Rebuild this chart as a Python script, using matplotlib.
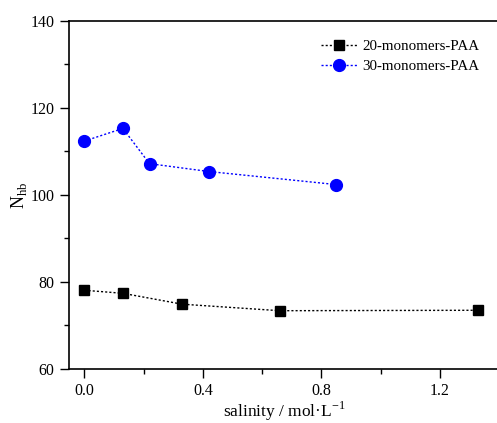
import matplotlib
matplotlib.use("Agg")
import matplotlib.pyplot as plt
from matplotlib.ticker import MultipleLocator

plt.rcParams['font.family'] = ['Liberation Serif', 'DejaVu Serif']

x20 = [0.0, 0.13, 0.33, 0.66, 1.33]
y20 = [78.1, 77.4, 74.9, 73.4, 73.5]
x30 = [0.0, 0.13, 0.22, 0.42, 0.85]
y30 = [112.4, 115.3, 107.2, 105.4, 102.4]
labels = ["20-monomers-PAA", "30-monomers-PAA"]

W, H = 497, 423
fig = plt.figure(figsize=(W/100, H/100), dpi=100)
l, r, t, b = 69, 499, 21, 369
ax = fig.add_axes([l/W, 1 - b/H, (r-l)/W, (b-t)/H])

ax.plot(x20, y20, linestyle=(0, (1.5, 1.5)), color='black', linewidth=1,
        marker='s', markersize=6.5, label=labels[0])
ax.plot(x30, y30, linestyle=(0, (1.5, 1.5)), color='blue', linewidth=1,
        marker='o', markersize=8.5, label=labels[1])

ax.set_xlim(-0.052, 1.4)
ax.set_ylim(60, 140)
ax.xaxis.set_major_locator(MultipleLocator(0.4))
ax.xaxis.set_minor_locator(MultipleLocator(0.2))
ax.yaxis.set_major_locator(MultipleLocator(20))
ax.yaxis.set_minor_locator(MultipleLocator(10))
ax.xaxis.set_major_formatter(plt.FuncFormatter(lambda v, p: f"{v:.1f}"))
ax.yaxis.set_major_formatter(plt.FuncFormatter(lambda v, p: f"{v:.0f}"))
ax.tick_params(which='both', direction='out', top=False, right=False, labelsize=11.5, width=1)
ax.tick_params(which='major', length=6.5)
ax.tick_params(which='minor', length=3.5)
ax.tick_params(axis='y', pad=4)
for s in ax.spines.values():
    s.set_linewidth(1.2)
ax.spines['right'].set_visible(False)

ax.set_xlabel("salinity / mol·L$^{\\mathregular{-1}}$", fontsize=12.5, labelpad=0.5)
ax.set_ylabel("N$_{\\mathregular{hb}}$", fontsize=13, labelpad=1)

ax.legend(loc='upper right', bbox_to_anchor=(0.985, 0.985), frameon=False, fontsize=10.8,
          handlelength=2.4, handletextpad=0.3, labelspacing=0.45)

fig.savefig("out.png", dpi=100)
